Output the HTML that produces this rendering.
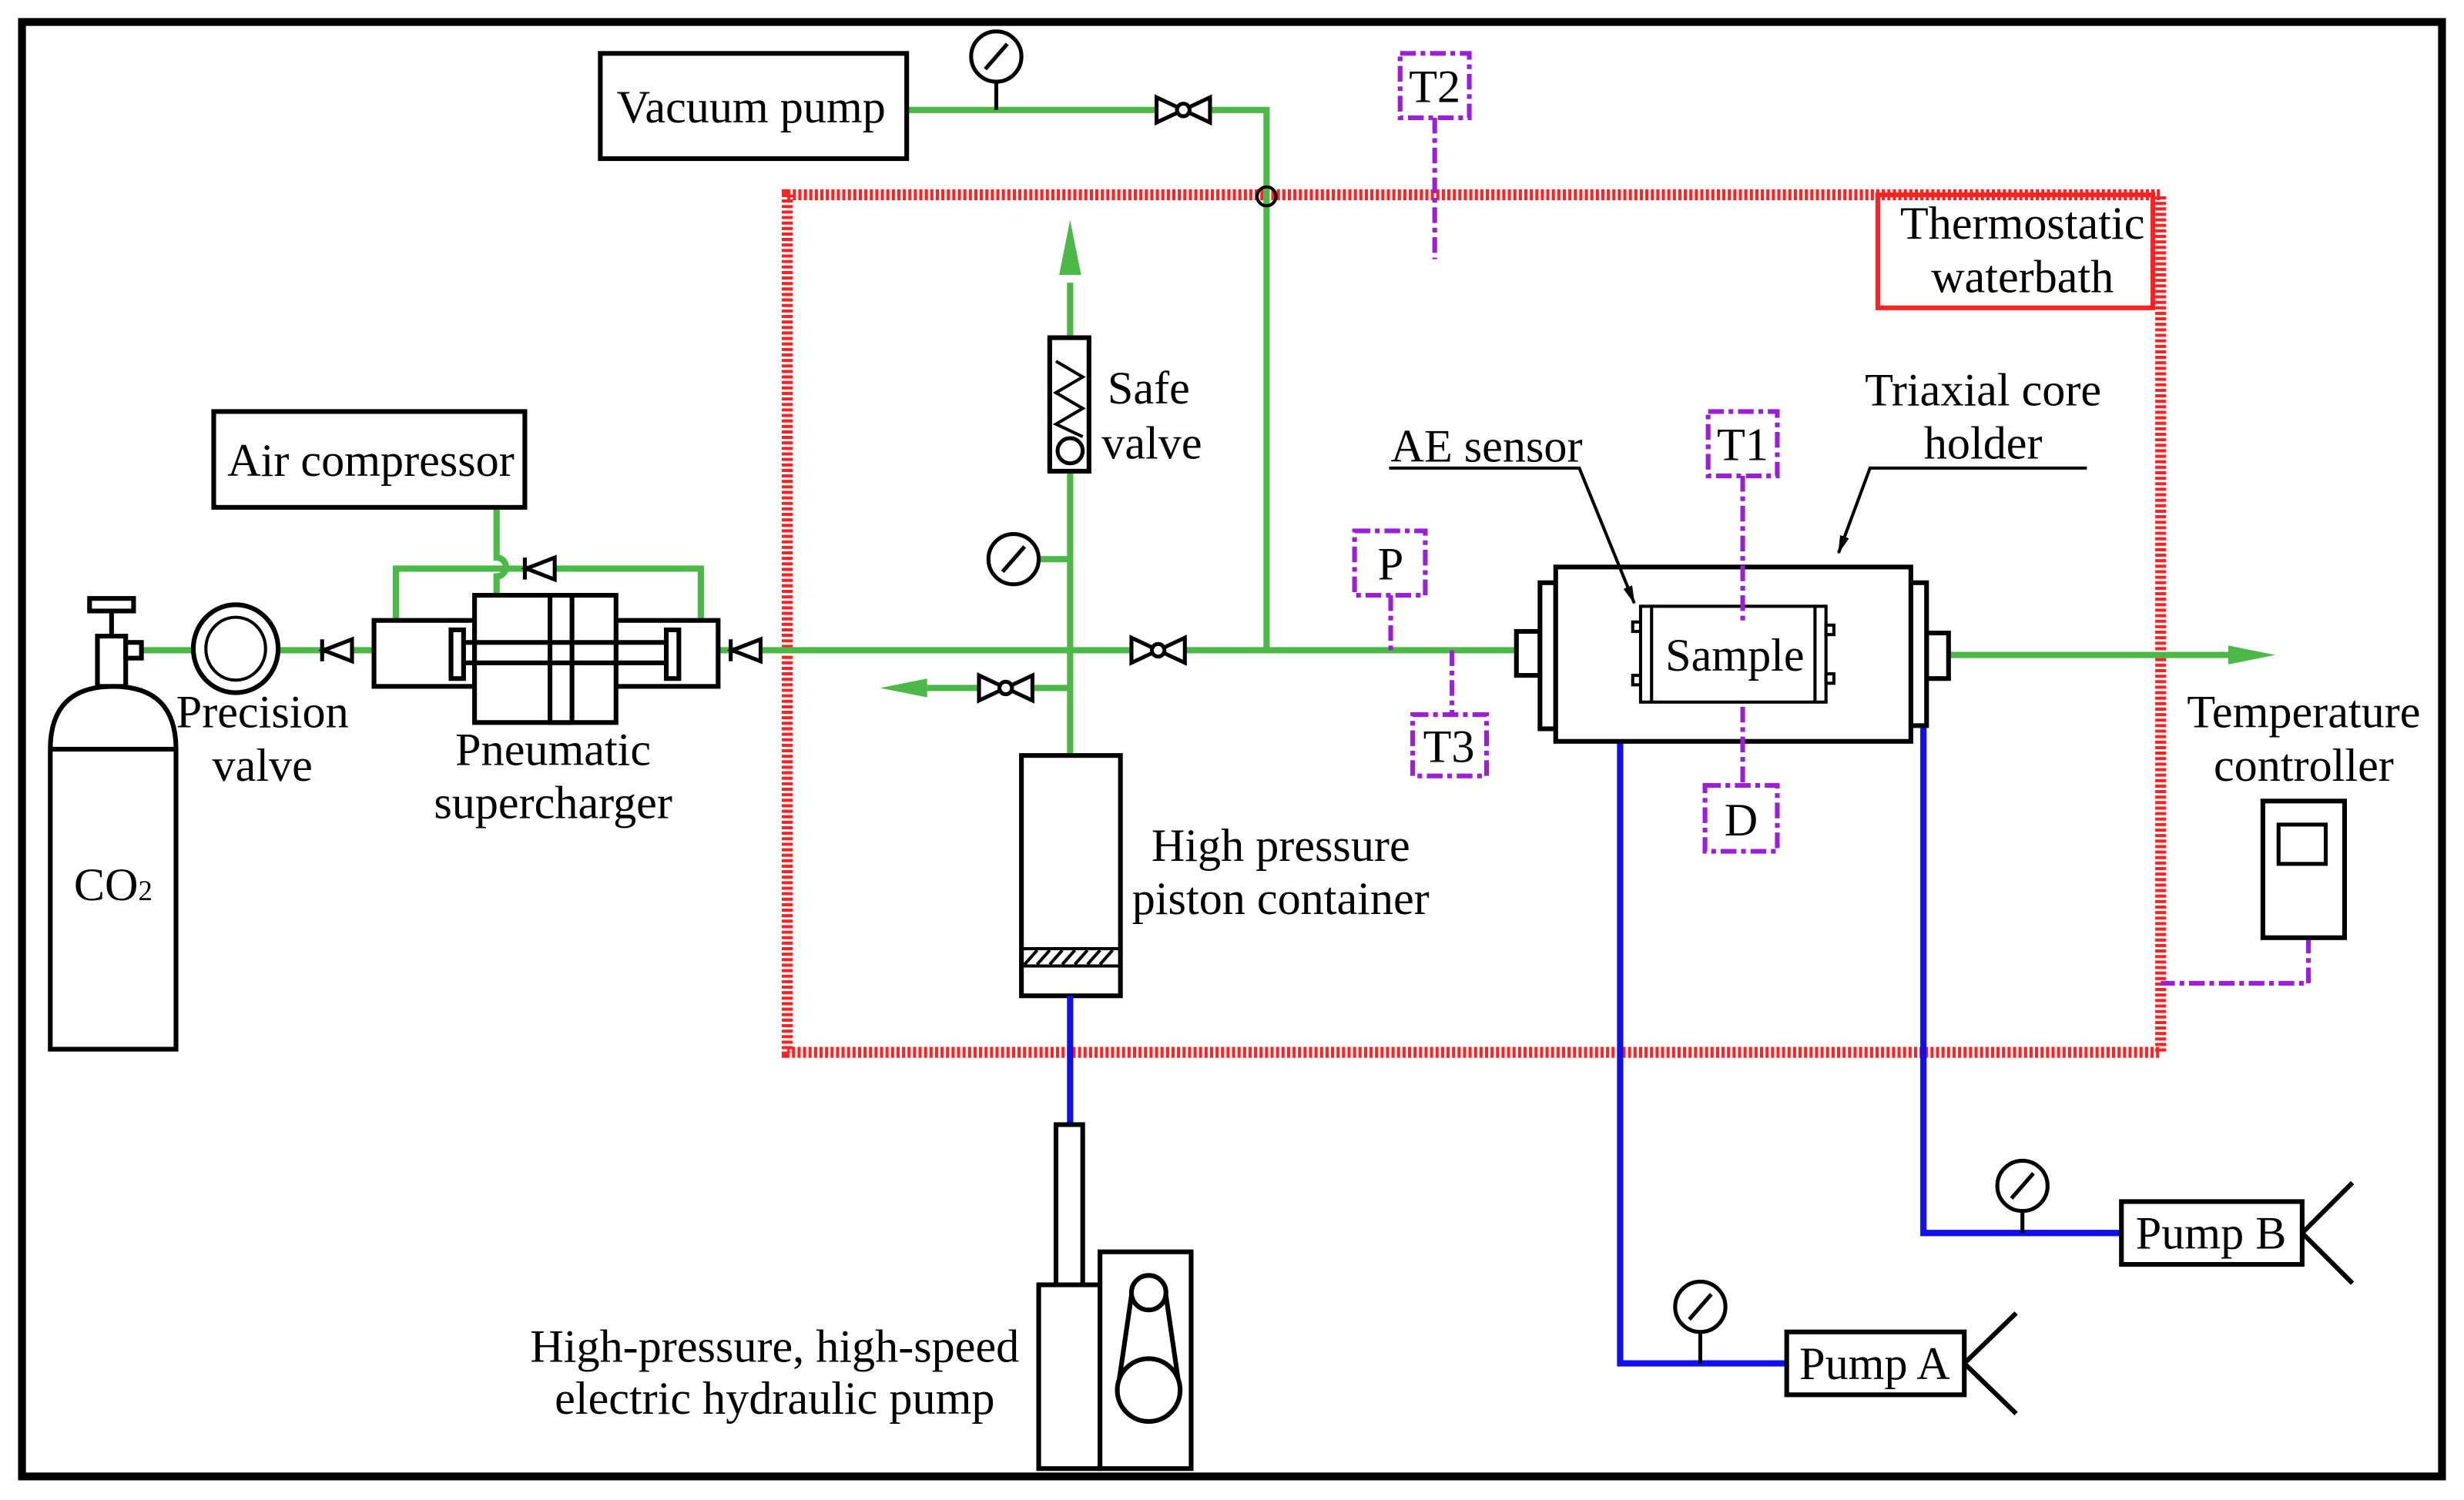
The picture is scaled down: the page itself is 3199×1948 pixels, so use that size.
<!DOCTYPE html>
<html><head><meta charset="utf-8"><style>
html,body{margin:0;padding:0;background:#fff}
svg{display:block}
text{font-family:"Liberation Serif",serif;font-size:29.5px;fill:#000}
</style></head><body>
<svg width="3199" height="1948" viewBox="0 0 1568 955" preserveAspectRatio="none" xmlns="http://www.w3.org/2000/svg">
<defs>
<marker id="ga" markerWidth="10" markerHeight="10" refX="9" refY="5" orient="auto" markerUnits="userSpaceOnUse" viewBox="0 0 10 10"><path d="M0,2 L10,5 L0,8z" fill="#4cb848"/></marker>
<marker id="ka" markerWidth="12" markerHeight="12" refX="11" refY="6" orient="auto" markerUnits="userSpaceOnUse"><path d="M0,3 L12,6 L0,9z" fill="#000"/></marker>
</defs>
<rect x="14" y="14" width="1540" height="926" fill="none" stroke="#000" stroke-width="5"/>
<rect x="501" y="124" width="874" height="546" fill="none" stroke="#f22" stroke-width="7" stroke-dasharray="2,1.5"/>
<rect x="1195" y="124" width="175" height="72" fill="none" stroke="#f22" stroke-width="3"/>
<text x="1287" y="152" text-anchor="middle">Thermostatic</text>
<text x="1287" y="186" text-anchor="middle">waterbath</text>
<g stroke="#4cb848" stroke-width="4" fill="none">
<path d="M577,70 H806 V414"/>
<path d="M90,414 H238"/>
<path d="M457,414 H965"/>
<path d="M681,480 V180"/>
<path d="M681,356 H660"/>
<path d="M681,438 H590"/>
<path d="M1240,417 H1420"/>
<path d="M316,323 V355 a6,6 0 0 1 0,12 V379"/>
<path d="M252,395 V362 H446 V395"/>
</g>
<path d="M681,140 L674,175 L688,175z" fill="#4cb848"/>
<path d="M560,438 L590,432 L590,444z" fill="#4cb848"/>
<path d="M1448,417 L1418,411 L1418,423z" fill="#4cb848"/>
<circle cx="806" cy="125" r="6" fill="none" stroke="#000" stroke-width="2"/>
<rect x="382" y="34" width="195" height="67" fill="#fff" stroke="#000" stroke-width="3"/>
<text x="478" y="78" text-anchor="middle">Vacuum pump</text>
<circle cx="634" cy="36" r="16" fill="#fff" stroke="#000" stroke-width="2.5"/><path d="M627,44 L641,28 M634,52 V70" stroke="#000" stroke-width="2.5"/>
<circle cx="645" cy="356" r="16" fill="#fff" stroke="#000" stroke-width="2.5"/><path d="M638,364 L652,348" stroke="#000" stroke-width="2.5"/>
<g fill="#fff" stroke="#000" stroke-width="2.5">
<path d="M736,62 L770,78 L770,62 L736,78z"/><circle cx="753" cy="70" r="4"/>
<path d="M720,406 L754,422 L754,406 L720,422z"/><circle cx="737" cy="414" r="4"/>
<path d="M623,430 L657,446 L657,430 L623,446z"/><circle cx="640" cy="438" r="4"/>
</g>
<g fill="#fff" stroke="#000" stroke-width="2.5">
<path d="M205,407 V421 M206,414 L224,407 V421z"/>
<path d="M465,407 V421 M466,414 L484,407 V421z"/>
<path d="M334,355 V369 M335,362 L353,355 V369z"/>
</g>
<rect x="668" y="215" width="25" height="85" fill="#fff" stroke="#000" stroke-width="3"/>
<path d="M672,230 L689,240 L672,250 L689,260 L672,270 L689,278" fill="none" stroke="#000" stroke-width="2"/>
<circle cx="681" cy="287" r="8" fill="#fff" stroke="#000" stroke-width="2.5"/>
<text x="731" y="257" text-anchor="middle">Safe</text><text x="733" y="292" text-anchor="middle">valve</text>
<rect x="650" y="481" width="63" height="153" fill="#fff" stroke="#000" stroke-width="3"/>
<rect x="650" y="604" width="63" height="11" fill="none" stroke="#000" stroke-width="2"/>
<path d="M652,614 l8,-9 M660,614 l8,-9 M668,614 l8,-9 M676,614 l8,-9 M684,614 l8,-9 M692,614 l8,-9 M700,614 l8,-9" stroke="#000" stroke-width="2"/>
<text x="815" y="548" text-anchor="middle">High pressure</text><text x="815" y="582" text-anchor="middle">piston container</text>
<g stroke="#1010ee" stroke-width="4" fill="none">
<path d="M681,634 V716"/>
<path d="M1031,472 V868 H1137"/>
<path d="M1224,462 V785 H1350"/>
</g>
<g fill="#fff" stroke="#000" stroke-width="3">
<rect x="672" y="716" width="17" height="102"/>
<rect x="661" y="818" width="39" height="117"/>
<rect x="700" y="797" width="58" height="138"/>
<path d="M720,825 L712,880 M742,825 L750,880"/>
<circle cx="731" cy="823" r="11"/>
<circle cx="731" cy="885" r="20"/>
</g>
<text x="493" y="867" text-anchor="middle">High-pressure, high-speed</text>
<text x="493" y="900" text-anchor="middle">electric hydraulic pump</text>
<g fill="#fff" stroke="#000" stroke-width="3">
<rect x="1137" y="848" width="113" height="40"/>
<path d="M1250,868 L1283,836 M1250,868 L1283,900"/>
<rect x="1350" y="765" width="115" height="40"/>
<path d="M1465,785 L1497,753 M1465,785 L1497,817"/>
</g>
<circle cx="1082" cy="832" r="16" fill="#fff" stroke="#000" stroke-width="2.5"/><path d="M1075,840 L1089,824 M1082,848 V868" stroke="#000" stroke-width="2.5"/>
<circle cx="1287" cy="755" r="16" fill="#fff" stroke="#000" stroke-width="2.5"/><path d="M1280,763 L1294,747 M1287,771 V785" stroke="#000" stroke-width="2.5"/>
<text x="1193" y="878" text-anchor="middle">Pump A</text>
<text x="1407" y="795" text-anchor="middle">Pump B</text>
<g fill="#fff" stroke="#000" stroke-width="3">
<rect x="965" y="402" width="15" height="28"/>
<rect x="980" y="371" width="10" height="93"/>
<rect x="1226" y="403" width="14" height="29"/>
<rect x="1216" y="371" width="10" height="91"/>
<rect x="990" y="361" width="226" height="111"/>
</g>
<g fill="#fff" stroke="#000" stroke-width="2">
<rect x="1044" y="386" width="118" height="61"/>
<path d="M1051,386 V447 M1155,386 V447"/>
<rect x="1039" y="396" width="5" height="6"/><rect x="1039" y="430" width="5" height="6"/>
<rect x="1162" y="398" width="5" height="6"/><rect x="1162" y="429" width="5" height="6"/>
</g>
<text x="1104" y="427" text-anchor="middle">Sample</text>
<path d="M884,298 H1005 L1040,384" fill="none" stroke="#000" stroke-width="2" marker-end="url(#ka)"/>
<path d="M1328,298 H1190 L1170,352" fill="none" stroke="#000" stroke-width="2" marker-end="url(#ka)"/>
<text x="946" y="294" text-anchor="middle">AE sensor</text>
<text x="1262" y="258" text-anchor="middle">Triaxial core</text>
<text x="1262" y="292" text-anchor="middle">holder</text>
<g stroke="#9b1fd6" stroke-width="3" fill="none" stroke-dasharray="10,3,3,3">
<rect x="891" y="34" width="44" height="41" fill="#fff"/>
<path d="M913,75 V165"/>
<rect x="1087" y="262" width="44" height="41"/>
<path d="M1109,303 V395"/>
<path d="M1109,450 V500"/>
<rect x="1085" y="500" width="46" height="42"/>
<rect x="862" y="338" width="45" height="41"/>
<path d="M885,379 V414"/>
<path d="M924,414 V455"/>
<rect x="899" y="455" width="47" height="39"/>
<path d="M1469,597 V626 H1375"/>
</g>
<text x="913" y="65" text-anchor="middle">T2</text>
<text x="1109" y="293" text-anchor="middle">T1</text>
<text x="1108" y="532" text-anchor="middle">D</text>
<text x="885" y="369" text-anchor="middle">P</text>
<text x="922" y="485" text-anchor="middle">T3</text>
<rect x="1440" y="510" width="52" height="87" fill="#fff" stroke="#000" stroke-width="3"/>
<rect x="1450" y="525" width="30" height="25" fill="#fff" stroke="#000" stroke-width="2.5"/>
<text x="1466" y="463" text-anchor="middle">Temperature</text>
<text x="1466" y="497" text-anchor="middle">controller</text>
<rect x="136" y="262" width="198" height="61" fill="#fff" stroke="#000" stroke-width="3"/>
<text x="236" y="303" text-anchor="middle">Air compressor</text>
<g fill="#fff" stroke="#000" stroke-width="3">
<rect x="238" y="395" width="64" height="42"/>
<rect x="392" y="395" width="65" height="42"/>
<rect x="302" y="379" width="90" height="81"/>
<rect x="350" y="379" width="14" height="81"/>
<rect x="287" y="401" width="8" height="31"/>
<rect x="424" y="401" width="8" height="31"/>
<path d="M295,409 H424 M295,422 H424"/>
</g>
<text x="167" y="463" text-anchor="middle">Precision</text>
<text x="167" y="497" text-anchor="middle">valve</text>
<text x="352" y="487" text-anchor="middle">Pneumatic</text>
<text x="352" y="521" text-anchor="middle">supercharger</text>
<ellipse cx="150" cy="413" rx="27" ry="28" fill="#fff" stroke="#000" stroke-width="3"/>
<ellipse cx="150" cy="413" rx="19" ry="20" fill="none" stroke="#000" stroke-width="2"/>
<g fill="#fff" stroke="#000" stroke-width="3">
<rect x="57" y="381" width="28" height="8"/>
<path d="M71,389 V405"/>
<rect x="62" y="405" width="18" height="32"/>
<rect x="80" y="409" width="10" height="10"/>
<path d="M32,668 V477 Q32,437 72,437 Q112,437 112,477 V668 Z"/>
<path d="M32,477 H112"/>
</g>
<text x="72" y="573" text-anchor="middle">CO<tspan font-size="18">2</tspan></text>
</svg>
</body></html>
